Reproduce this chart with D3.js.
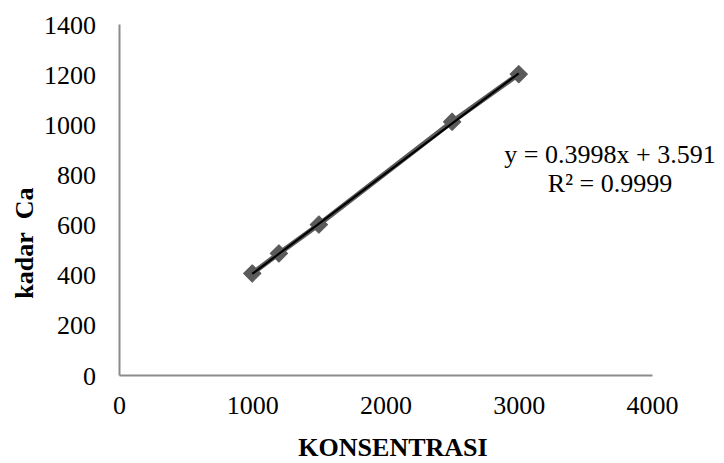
<!DOCTYPE html>
<html>
<head>
<meta charset="utf-8">
<script src="https://cdn.jsdelivr.net/npm/d3@7"></script>
<style>
  body { margin: 0; background: #fff; }
  svg text { font-family: "Liberation Serif", "Times New Roman", serif; fill: #000; }
</style>
</head>
<body>
<div class="chart"></div>
<script>
const konsentrasi = [1000, 1200, 1500, 2500, 3000];
const kadarCa = [405, 485, 600, 1010, 1200];
const xTicks = [0, 1000, 2000, 3000, 4000];
const yTicks = [0, 200, 400, 600, 800, 1000, 1200, 1400];
const slope = 0.3998;
const intercept = 3.591;
const eqLabel = "y = 0.3998x + 3.591";
const r2Label = "R² = 0.9999";

const w = 724, h = 463;
const fs = "26px";

const xScale = d3.scaleLinear().domain([0, 4000]).range([119, 652]);
const yScale = d3.scaleLinear().domain([0, 1400]).range([375, 24]);

const svg = d3.select(".chart").append("svg")
  .attr("width", w).attr("height", h);

/* axes */
const xAxis = d3.axisBottom(xScale).tickValues(xTicks).tickFormat(d3.format("d")).tickSize(0).tickPadding(21);
const yAxis = d3.axisLeft(yScale).tickValues(yTicks).tickFormat(d3.format("d")).tickSize(0).tickPadding(23);

const gx = svg.append("g").attr("transform", "translate(0,375)").call(xAxis);
const gy = svg.append("g").attr("transform", "translate(119,0)").call(yAxis);

[gx, gy].forEach(g => {
  g.select(".domain").attr("stroke", "#8c8c8c").attr("stroke-width", 2);
  g.selectAll("text").style("font-size", fs).style("font-family", "Liberation Serif");
});
gy.selectAll("text").attr("dy", "0.35em");

/* series line + markers */
const pts = konsentrasi.map((x, i) => [x, kadarCa[i]]);
svg.append("path")
  .datum(pts)
  .attr("d", d3.line().x(d => xScale(d[0])).y(d => yScale(d[1])))
  .attr("fill", "none")
  .attr("stroke", "#5a5a5a")
  .attr("stroke-width", 5);

svg.append("g").selectAll("path")
  .data(pts).enter().append("path")
  .attr("d", d3.symbol().type(d3.symbolSquare).size(150))
  .attr("transform", d => `translate(${xScale(d[0])},${yScale(d[1])}) rotate(45)`)
  .attr("fill", "#5a5a5a")
  .attr("stroke", "#5a5a5a")
  .attr("stroke-width", 1)
  .attr("stroke-linejoin", "round");

/* linear trendline */
const xs = d3.extent(konsentrasi);
svg.append("line")
  .attr("x1", xScale(xs[0])).attr("y1", yScale(slope * xs[0] + intercept))
  .attr("x2", xScale(xs[1])).attr("y2", yScale(slope * xs[1] + intercept))
  .attr("stroke", "#000").attr("stroke-width", 2.2);

/* equation */
svg.append("text").attr("x", 610).attr("y", 163)
  .attr("text-anchor", "middle").style("font-size", fs).text(eqLabel);
svg.append("text").attr("x", 610).attr("y", 192)
  .attr("text-anchor", "middle").style("font-size", fs).text(r2Label);

/* axis titles */
svg.append("text").attr("x", 393).attr("y", 456)
  .attr("text-anchor", "middle").style("font-size", fs).style("font-weight", "bold")
  .text("KONSENTRASI");
svg.append("text")
  .attr("transform", "translate(33,243) rotate(-90)")
  .attr("text-anchor", "middle").style("font-size", fs).style("font-weight", "bold")
  .text("kadar\u00a0\u00a0Ca");
</script>
</body>
</html>
